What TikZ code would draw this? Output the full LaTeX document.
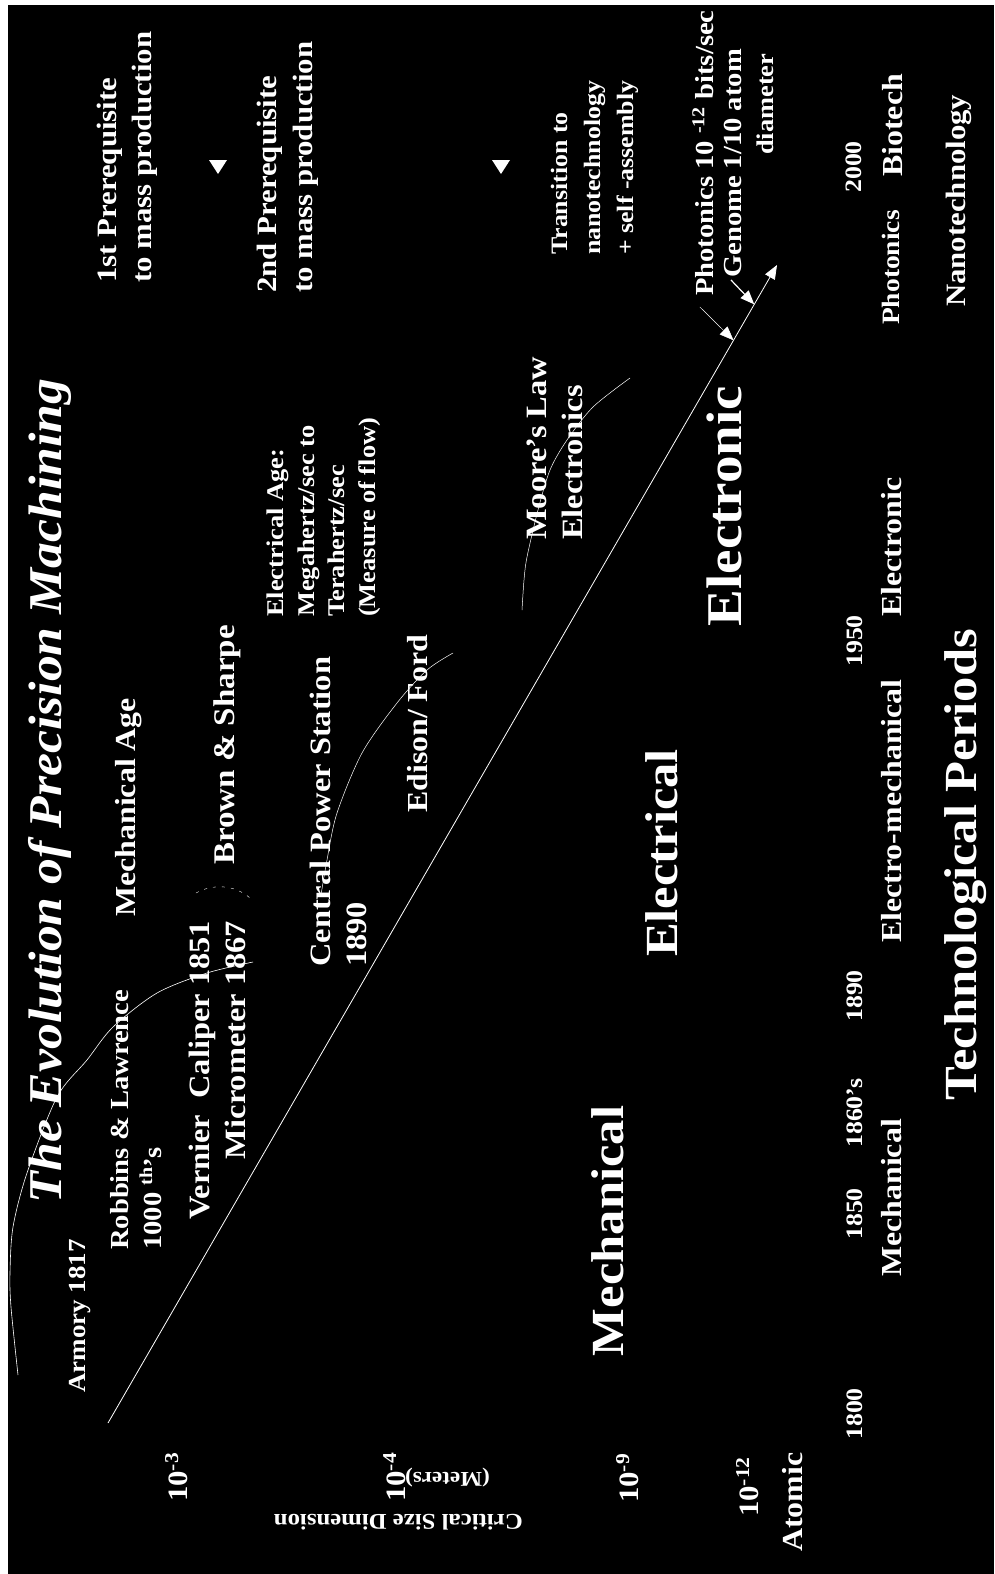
\documentclass[tikz,border=0pt]{standalone}
\usepackage{fontspec}
\setmainfont[FakeStretch=1.1]{Liberation Serif}
\usepackage{tikz}
\usetikzlibrary{arrows.meta,calc}

\begin{document}
\begin{tikzpicture}[x=1pt,y=-1pt,
    lbl/.style={text=white, inner sep=0pt, rotate=90, anchor=north west, align=left},
    fs/.style 2 args={font=\bfseries\fontsize{#1}{#2}\selectfont},
    era/.style={text=white, inner sep=0pt, rotate=90, font=\bfseries\fontsize{46}{50}\selectfont},
    trend/.style={white, line width=0.6pt},
    hitarrow/.style={-{Triangle[length=14pt,width=11pt]}}]
          \useasboundingbox (0,0) rectangle (994,1574);
          \fill[white] (0,0) rectangle (994,1574);
          \fill[black] (8,5) rectangle (994,1574);

          \node[era, font=\bfseries\itshape\fontsize{47}{50}\selectfont] (title) at (50,791) {The Evolution of Precision Machining};

          \node[lbl, fs={24.5}{30}] (armory) at (69,1393) {Armory 1817};
          \node[lbl, fs={26}{33}] (robbins) at (110,1250) {Robbins \& Lawrence\\1000 \textsuperscript{th}’s};
          \node[lbl, fs={29}{36}] (mechage) at (115,917) {Mechanical Age};
          \node[lbl, fs={29.5}{36}, align=right] (vernier) at (189,1220) {Vernier\ \ Caliper 1851\\Micrometer 1867};
          \node[lbl, fs={30}{36}] (brown) at (213,865) {Brown \& Sharpe};
          \node[lbl, fs={29.5}{36}] (central) at (310,967) {Central Power Station\\1890};
          \node[lbl, fs={24}{30.5}] (elecage) at (267,617) {Electrical Age:\\Megahertz/sec to\\Terahertz/sec\\(Measure of flow)};
          \node[lbl, fs={29}{36}] (edison) at (407,813) {Edison/ Ford};
          \node[lbl, fs={29.5}{36}] (moore) at (527,540) {Moore’s Law\\Electronics};
          \node[lbl, fs={28}{35}] (first) at (97,283) {1st Prerequisite\\to mass production};
          \node[lbl, fs={28}{36}] (second) at (257,293) {2nd Prerequisite\\to mass production};
          \node[lbl, fs={23.5}{33}] (trans) at (551,255) {Transition to\\nanotechnology\\+ self -assembly};
          \node[lbl, fs={26}{31}] (phot) at (692,296) {Photonics 10 \textsuperscript{-12} bits/sec};
          \node[lbl, fs={26}{31}] (genome) at (724,278) {Genome 1/10 atom};
          \node[lbl, fs={24}{31}] (diam) at (757,155) {diameter};

          \fill[white] (209,160) -- (227,160) -- (218,174) -- cycle;
          \fill[white] (492,160) -- (510,160) -- (501,174) -- cycle;

          \node[era] (mech) at (608,1231) {Mechanical};
          \node[era] (elec) at (662,853) {Electrical};
          \node[era, font=\bfseries\fontsize{50}{54}\selectfont] (tronic) at (724,506) {Electronic};

          \node[lbl, fs={28}{30}] (e3) at (165,1502) {10\textsuperscript{-3}};
          \node[lbl, fs={28}{30}] (e4) at (383,1502) {10\textsuperscript{-4}};
          \node[lbl, fs={28}{30}] (e9) at (616,1503) {10\textsuperscript{-9}};
          \node[lbl, fs={28}{30}] (e12) at (736,1517) {10\textsuperscript{-12}};
          \node[lbl, fs={29}{30}] (atomic) at (782,1552) {Atomic};
          \node[text=white, inner sep=0pt, rotate=180, anchor=north west, fs={22.5}{26}] (axis) at (523,1530) {Critical Size Dimension};
          \node[text=white, inner sep=0pt, rotate=180, anchor=north west, fs={21}{26}] (meters) at (490,1487) {(Meters)};

          \node[lbl, fs={23.5}{28}] (y1800) at (847,1440) {1800};
          \node[lbl, fs={23.5}{28}] (y1850) at (847,1240) {1850};
          \node[lbl, fs={23.5}{28}] (y1860) at (847,1148) {1860’s};
          \node[lbl, fs={23.5}{28}] (y1890) at (847,1022) {1890};
          \node[lbl, fs={23.5}{28}] (y1950) at (847,667) {1950};
          \node[lbl, fs={23.5}{28}] (y2000) at (846,193) {2000};

          \node[lbl, fs={29}{32}] (pmech) at (881,1277) {Mechanical};
          \node[lbl, fs={29}{32}] (pemech) at (881,943) {Electro-mechanical};
          \node[lbl, fs={29}{32}] (ptronic) at (881,617) {Electronic};
          \node[lbl, fs={25}{32}] (pphot) at (882,325) {Photonics};
          \node[lbl, fs={29}{32}] (pbio) at (882,177) {Biotech};
          \node[lbl, fs={28}{32}] (pnano) at (946,307) {Nanotechnology};
          \node[era] (periods) at (966,865) {Technological Periods};

          \draw[trend] plot[smooth] coordinates {(18,1375) (11,1307) (10,1273) (13,1227) (27,1173) (57,1097) (87,1060) (113,1027) (157,993) (207,973) (253,962)};
          \draw[trend, line width=0.4pt, dash pattern=on 3pt off 6pt] (196,893) .. controls (212,884) and (234,884) .. (250,898);
          \draw[trend, line width=0.5pt] plot[smooth] coordinates {(321,895) (327,860) (337,813) (362,753) (397,703) (427,670) (453,653)};
          \draw[trend, line width=0.5pt] plot[smooth] coordinates {(522,610) (524,580) (527,557) (538,510) (550,470) (567,440) (593,407) (630,378)};

          \coordinate (start) at (108,1423);
          \coordinate (end) at (777,265);
          \coordinate (hitP) at ($(start)!0.935!(end)$);
          \coordinate (hitG) at ($(start)!0.966!(end)$);
          \draw[white, line width=0.8pt, hitarrow] (start) -- (end);
          \draw[white, line width=0.5pt, hitarrow] ($(phot.west)+(-3,11)$) -- (hitP);
          \draw[white, line width=1.2pt, hitarrow] ($(genome.west)+(-2,2)$) -- (hitG);
        \end{tikzpicture}
\end{document}
